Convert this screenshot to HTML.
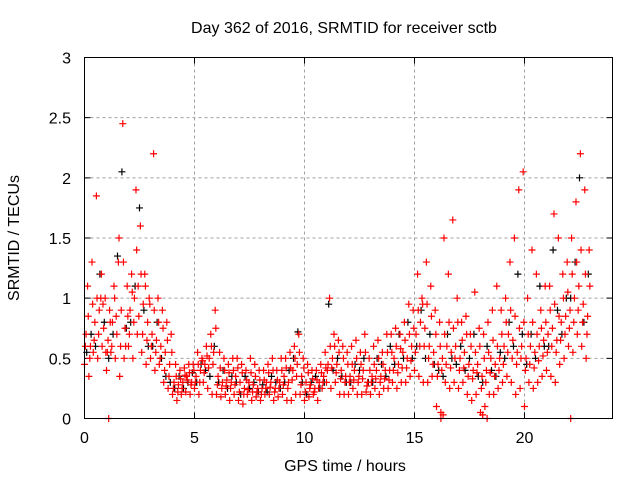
<!DOCTYPE html>
<html><head><meta charset="utf-8"><style>
body{margin:0;background:#fff}
svg{display:block;font-family:"Liberation Sans",sans-serif}
</style></head><body>
<svg id="chart" width="640" height="480" viewBox="0 0 640 480">
<rect width="640" height="480" fill="#fff"/>
<text x="344" y="33" font-size="16" text-anchor="middle" fill="#000">Day 362 of 2016, SRMTID for receiver sctb</text>
<g id="grid"></g>
<g id="ticks"></g>
<g id="marks"></g>
<rect x="84.5" y="57.5" width="528" height="361" fill="none" stroke="#000" stroke-width="1"/>
<text x="345" y="471" font-size="16" text-anchor="middle">GPS time / hours</text>
<text x="19" y="238" font-size="16" text-anchor="middle" transform="rotate(-90 19 238)">SRMTID / TECUs</text>
</svg>
<script>
const times=[0,0.2,0.4,0.6,0.8,1,1.2,1.4,1.6,1.8,2,2.2,2.4,2.6,2.8,3,3.2,3.4,3.6,3.8,4,4.2,4.4,4.6,4.8,5,5.2,5.4,5.6,5.8,6,6.2,6.4,6.6,6.8,7,7.2,7.4,7.6,7.8,8,8.2,8.4,8.6,8.8,9,9.2,9.4,9.6,9.8,10,10.2,10.4,10.6,10.8,11,11.2,11.4,11.6,11.8,12,12.2,12.4,12.6,12.8,13,13.2,13.4,13.6,13.8,14,14.2,14.4,14.6,14.8,15,15.2,15.4,15.6,15.8,16,16.2,16.4,16.6,16.8,17,17.2,17.4,17.6,17.8,18,18.2,18.4,18.6,18.8,19,19.2,19.4,19.6,19.8,20,20.2,20.4,20.6,20.8,21,21.2,21.4,21.6,21.8,22,22.2,22.4,22.6,22.8];
const redLow=[.45,.35,.55,.5,.6,.4,.55,.5,.35,.5,.6,.5,.7,.55,.45,.5,.4,.45,.3,.25,.2,.15,.2,.22,.2,.25,.2,.3,.25,.2,.2,.18,.2,.15,.2,.15,.12,.2,.15,.18,.15,.2,.2,.15,.18,.2,.15,.15,.2,.2,.15,.18,.2,.15,.25,.3,.25,.3,.2,.2,.2,.25,.2,.2,.22,.2,.25,.2,.25,.25,.3,.25,.3,.3,.35,.4,.35,.3,.3,.35,.1,.05,.3,.25,.3,.25,.3,.2,.15,.2,.05,.1,.2,.2,.25,.3,.35,.3,.2,.25,.1,.3,.25,.3,.35,.4,.35,.3,.45,.5,.6,.55,.7,.6,.5];
const redMid=[.7,.6,.8,.9,.75,.65,.8,.7,.9,.6,.9,1.0,.85,.95,.8,.7,.65,.6,.55,.45,.3,.28,.3,.32,.3,.35,.4,.45,.5,.55,.35,.3,.32,.3,.35,.3,.25,.3,.28,.25,.25,.3,.3,.25,.3,.35,.3,.4,.45,.35,.3,.28,.25,.3,.35,.45,.5,.45,.4,.35,.35,.4,.35,.4,.3,.35,.4,.35,.4,.4,.5,.45,.55,.5,.6,.7,.8,.75,.6,.55,.45,.5,.6,.55,.6,.5,.55,.45,.4,.45,.35,.4,.5,.45,.5,.6,.7,.65,.55,.6,.5,.6,.55,.6,.65,.7,.75,.65,.8,.85,.9,1.0,1.1,.95,.85];
const redHigh=[1.1,1.3,1.85,1.0,1.0,.9,1.1,1.3,2.45,1.1,1.2,1.9,1.6,1.2,1.0,2.2,1.0,.9,.8,.7,.45,.4,.42,.45,.45,.55,.5,.6,.7,.9,.55,.5,.45,.5,.5,.45,.4,.5,.45,.4,.4,.45,.5,.4,.5,.5,.55,.6,.7,.5,.45,.4,.4,.45,.55,1.0,.7,.65,.6,.55,.6,.65,.55,.7,.5,.6,.65,.55,.7,.7,.75,.7,.8,.95,.9,1.2,1.0,1.3,1.1,.9,.8,1.5,1.2,1.65,1.0,.8,.85,.7,1.05,.75,.7,.8,.9,1.1,.9,1.0,1.3,1.5,1.9,2.05,1.0,1.4,1.2,.9,1.1,1.1,1.7,1.5,1.2,1.3,1.5,1.8,2.2,1.9,1.4];
const redExtraA=[.6,.5,.65,.7,.95,.55,.6,.85,.6,.75,.7,.8,1.1,.7,.65,.6,.55,.5,.4,.35,.25,.22,.25,.35,.28,.3,.3,.38,.42,.45,.28,.25,.27,.25,.28,.22,.2,.24,.22,.22,.2,.25,.26,.22,.25,.28,.25,.32,.35,.28,.22,.25,.22,.25,.3,.4,.42,.38,.33,.3,.3,.32,.3,.33,.27,.3,.33,.3,.33,.32,.4,.38,.42,.42,.48,.55,.6,.6,.5,.45,.35,.4,.45,.42,.5,.4,.42,.35,.33,.38,.25,.3,.38,.35,.4,.45,.55,.5,.45,.5,.4,.45,.42,.48,.52,.55,.6,.55,.65,.7,.75,.8,.9,.8,.7];
const redExtraB=[.85,.95,1.0,1.2,.55,.8,1.0,1.5,1.3,.85,1.05,1.4,1.2,1.1,.95,.9,.8,.75,.65,.55,.35,.33,.36,.38,.4,.45,.48,.52,.6,.75,.42,.4,.38,.4,.42,.38,.32,.38,.35,.32,.32,.38,.4,.32,.4,.42,.42,.5,.55,.42,.38,.33,.32,.38,.42,.6,.6,.55,.5,.45,.45,.5,.45,.55,.4,.45,.5,.45,.55,.55,.6,.58,.65,.7,.75,.9,.95,.95,.85,.7,.6,.7,.8,.75,.8,.65,.7,.6,.55,.6,.5,.55,.65,.6,.7,.8,.9,.85,.75,.8,.7,.8,.7,.75,.8,.9,.95,.85,1.0,1.05,1.2,1.3,1.4,1.2,1.1];
const blackVals=[.55,.7,.6,1.2,.8,.5,.7,1.35,2.05,.75,.8,1.1,1.75,.9,.6,.6,.8,.5,.35,.3,.25,.35,.25,.3,.38,.3,.45,.4,.35,.6,.3,.4,.25,.35,.3,.2,.35,.25,.3,.22,.28,.22,.35,.3,.25,.3,.4,.5,.72,.3,.2,.3,.35,.25,.3,.95,.4,.5,.35,.3,.3,.45,.4,.5,.3,.3,.5,.45,.35,.6,.45,.7,.5,.8,.5,.6,.9,.5,.7,.45,.4,.35,.7,.5,.45,.6,.4,.5,.7,.35,.3,.6,.4,.35,.55,.5,.8,.6,1.2,.7,.45,.7,.5,1.1,.6,.6,1.4,.9,.7,1.0,1.0,1.3,2.0,.8,1.2];
const zeroTimes=[1.1,16.2,16.3,18.1,18.3,22.1];
const zeroVals=[0,0,0.03,0.03,0,0];
const xTicks=[0,5,10,15,20];
const yTicks=[0,0.5,1,1.5,2,2.5,3];
const yTickLabels=["0","0.5","1","1.5","2","2.5","3"];

const NS="http://www.w3.org/2000/svg";
const X0=84.5,PW=528,Y0=418.5,PH=361,XMAX=24,YMAX=3;
function xs(t){return X0+t/XMAX*PW;}
function ys(v){return Y0-v/YMAX*PH;}
const grid=document.getElementById('grid'),ticks=document.getElementById('ticks'),marks=document.getElementById('marks');
function mk(tag,attrs,parent){const e=document.createElementNS(NS,tag);for(const k in attrs)e.setAttribute(k,attrs[k]);parent.appendChild(e);return e;}
xTicks.forEach(t=>{
  const x=xs(t);
  if(t>0){const g=mk('line',{x1:x,y1:57.5,x2:x,y2:418.5,stroke:'#a0a0a0','stroke-dasharray':'3,3'},grid);
  
  }
  const tk=mk('path',{d:`M${x},418.5v-6M${x},57.5v6`,stroke:'#000'},ticks);
  
  
  const l=mk('text',{x:x,y:443,'font-size':16,'text-anchor':'middle',fill:'#000'},ticks);l.textContent=t;
  
  
});
yTicks.forEach((v,i)=>{
  const y=ys(v);
  if(v>0&&v<3){const g=mk('line',{x1:84.5,y1:y,x2:612.5,y2:y,stroke:'#a0a0a0','stroke-dasharray':'3,3'},grid);
  
  }
  const tk=mk('path',{d:`M84.5,${y}h6M612.5,${y}h-6`,stroke:'#000'},ticks);
  
  
  const l=mk('text',{x:71,y:y+6,'font-size':16,'text-anchor':'end',fill:'#000'},ticks);l.textContent=yTickLabels[i];
  
  
});
function plus(t,v,color,name){
  const x=xs(t),y=ys(v);
  const p=mk('path',{d:`M${x-3.5},${y}h7M${x},${y-3.5}v7`,stroke:color,'stroke-width':1.2},marks);
  
  
}
times.forEach((t,i)=>plus(t+0.1,blackVals[i],'#000','black-point'));
times.forEach((t,i)=>plus(t,redLow[i],'#ff0000','red-point'));
times.forEach((t,i)=>plus(t+0.07,redMid[i],'#ff0000','red-point'));
times.forEach((t,i)=>plus(t+0.14,redHigh[i],'#ff0000','red-point'));
times.forEach((t,i)=>plus(t+0.04,redExtraA[i],'#ff0000','red-point'));
times.forEach((t,i)=>plus(t+0.17,redExtraB[i],'#ff0000','red-point'));
zeroTimes.forEach((t,i)=>plus(t,zeroVals[i],'#ff0000','red-point'));
</script>
</body></html>
